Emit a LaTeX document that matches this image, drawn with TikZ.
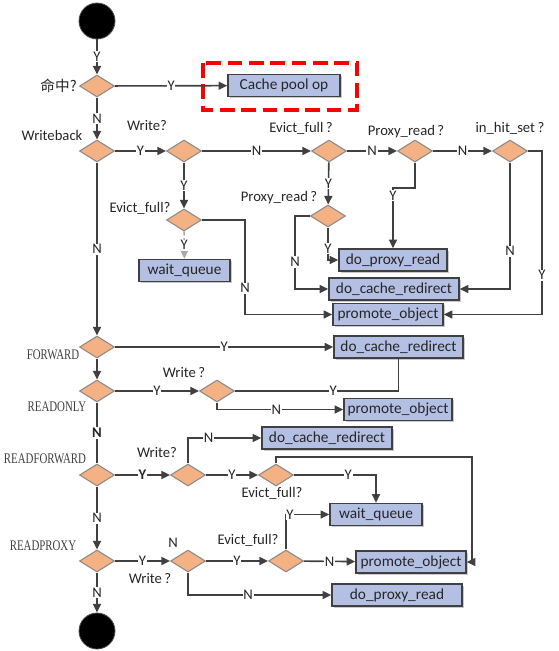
\documentclass[tikz,border=0pt]{standalone}
\usepackage{fontspec}
\setmainfont{Carlito}
\newfontfamily\cjk{Noto Sans CJK SC}
\newfontfamily\sern[FakeStretch=0.74]{Liberation Serif}
\usetikzlibrary{shapes.geometric,arrows.meta,shadows}
\definecolor{lnc}{HTML}{404040}
\definecolor{boxf}{HTML}{B4BFE4}
\definecolor{diaf}{HTML}{F4B183}
\definecolor{diad}{HTML}{8A8A8A}
\definecolor{txt}{HTML}{262626}
\tikzset{
  ln/.style={draw=lnc, line width=1.2pt},
  arr/.style={ln, -{Triangle[length=6.5pt,width=6pt]}},
  faint/.style={draw=lnc!45, densely dashed},
  lbl/.style={fill=white, inner sep=0.6pt, text=txt, font=\fontsize{11}{12}\selectfont},
  dia/.style={diamond, draw=diad, line width=0.8pt, fill=diaf, minimum width=26.25pt, minimum height=16.5pt, inner sep=0pt},
  bx/.style={rectangle, draw=lnc, line width=1.2pt, fill=boxf, text=txt, inner sep=0pt,
     minimum height=16.5pt, minimum width=#1*0.75pt, font=\fontsize{11.5}{13}\selectfont,
     drop shadow={shadow xshift=1.2pt, shadow yshift=-1.2pt, fill=black!35, opacity=0.6}},
  term/.style={circle, fill=black, draw=black!70, line width=0.6pt, minimum size=27pt, inner sep=0pt},
  captxt/.style={text=txt, inner sep=0pt, font=\fontsize{11}{12}\selectfont},
  sercap/.style={text=lnc, inner sep=0pt, font=\sern\fontsize{11}{12}\selectfont},
}
\begin{document}
\begin{tikzpicture}[x=0.75pt, y=-0.75pt]
\useasboundingbox (0,0) rectangle (558,651);
% red dashed frame
\draw[red, line width=2.3pt, dash pattern=on 11pt off 5pt] (203,63) rectangle (357,110);
% terminals
\node[term] (s) at (97,21) {};
\node[term] (e) at (97,631) {};
% diamonds
\node[dia] (d1) at (97,86) {};
\node[dia] (d2) at (97,151) {};
\node[dia] (d3) at (184,151) {};
\node[dia] (d4) at (329,151) {};
\node[dia] (d5) at (415,151) {};
\node[dia] (d6) at (510,151) {};
\node[dia] (d7) at (328,216) {};
\node[dia] (d8) at (184,220) {};
\node[dia] (d9) at (97,347) {};
\node[dia] (d10) at (97,391) {};
\node[dia] (d11) at (217,391) {};
\node[dia] (d12) at (97,475) {};
\node[dia] (d13) at (188,475) {};
\node[dia] (d14) at (276,475) {};
\node[dia] (d15) at (97,561) {};
\node[dia] (d16) at (188,561) {};
\node[dia] (d17) at (286,561) {};
% boxes
\node[bx=112] (cache) at (284,85.5) {Cache pool op};
\node[bx=108] (dpr1) at (393,260) {do\_proxy\_read};
\node[bx=130] (dcr1) at (394,289) {do\_cache\_redirect};
\node[bx=110] (po1) at (388,314.5) {promote\_object};
\node[bx=91] (wq1) at (184.5,270.5) {wait\_queue};
\node[bx=129] (dcr2) at (398.5,347) {do\_cache\_redirect};
\node[bx=108] (po2) at (398,409.5) {promote\_object};
\node[bx=130] (dcr3) at (327,438) {do\_cache\_redirect};
\node[bx=92] (wq2) at (376,514.5) {wait\_queue};
\node[bx=110] (po3) at (411,562) {promote\_object};
\node[bx=130] (dpr2) at (397,595) {do\_proxy\_read};
% captions
\node[captxt, anchor=east] (c1) at (77,86) {\cjk 命中?};
\node[captxt] (c2) at (52,135) {Writeback};
\node[captxt] (c3) at (147,126) {Write?};
\node[captxt] (c4) at (301,128) {Evict\_full\,?};
\node[captxt] (c5) at (406,132) {Proxy\_read\,?};
\node[captxt] (c6) at (510,128) {in\_hit\_set\,?};
\node[captxt] (c7) at (279,198) {Proxy\_read\,?};
\node[captxt] (c8) at (140,208) {Evict\_full?};
\node[sercap] (c9) at (53,355) {FORWARD};
\node[sercap] (c10) at (57,407) {READONLY};
\node[captxt] (c11) at (184,373) {Write\,?};
\node[sercap] (c12) at (45,459) {READFORWARD};
\node[captxt] (c13) at (157,453) {Write?};
\node[captxt] (c14) at (272,493) {Evict\_full?};
\node[sercap] (c15) at (43,546) {READPROXY};
\node[captxt] (c16) at (173,543) {N};
\node[captxt] (c17) at (150,579) {Write\,?};
\node[captxt] (c18) at (248,540) {Evict\_full?};
% connectors
\draw[arr] (s) -- node[lbl]{Y} (d1);
\draw[arr] (d1) -- node[lbl]{Y} (cache);
\draw[arr] (d1) -- node[lbl]{N} (d2);
\draw[arr] (d2) -- node[lbl]{Y} (d3);
\draw[arr] (d3) -- node[lbl]{N} (d4);
\draw[arr] (d4) -- node[lbl]{N} (d5);
\draw[arr] (d5) -- node[lbl]{N} (d6);
\draw[arr] (d6.east) -- (542,151) |- node[lbl,pos=0.38]{Y} (po1.east);
\draw[arr] (d6.south) |- node[lbl,pos=0.35]{N} (dcr1.east);
\draw[arr] (d5.south) -- (415,188) -| node[lbl,pos=0.565]{Y} (dpr1.north);
\draw[arr] (d4) -- node[lbl]{Y} (d7);
\draw[arr] (d7.south) -- node[lbl,pos=0.65]{Y} (328,260) -- (dpr1.west);
\draw[arr] (d7.west) -- (295,216) |- node[lbl,pos=0.315]{N} (dcr1.west);
\draw[arr] (d3) -- node[lbl]{Y} (d8);
\draw[arr,faint] (d8) -- node[lbl]{Y} (wq1);
\draw[arr] (d8.east) -- (245,220) |- node[lbl,pos=0.36]{N} (po1.west);
\draw[arr] (d2) -- node[lbl]{N} (d9);
\draw[arr] (d9) -- node[lbl]{Y} (dcr2);
\draw[arr] (d9) -- (d10);
\draw[arr] (d10) -- node[lbl]{Y} (d11);
\draw[ln] (d11.east) -| node[lbl,pos=0.3]{Y} (dcr2.south);
\draw[arr] (d11.south) |- node[lbl,pos=0.735]{N} (po2.west);
\draw[ln] (d10) -- node[lbl,font=\bfseries\fontsize{11}{12}\selectfont]{N} (d12);
\draw[arr] (d12) -- node[lbl,font=\bfseries\fontsize{11}{12}\selectfont]{Y} (d13);
\draw[arr] (d13.north) |- node[lbl,pos=0.64]{N} (dcr3.west);
\draw[arr] (d13) -- node[lbl]{Y} (d14);
\draw[arr] (d14.east) -| node[lbl,pos=0.33]{Y} (wq2.north);
\draw[arr] (d14.north) -- (276,457) -| (472,562) -- (po3.east);
\draw[arr] (d12) -- node[lbl]{N} (d15);
\draw[arr] (d15) -- node[lbl]{Y} (d16);
\draw[arr] (d16) -- node[lbl]{Y} (d17);
\draw[arr] (d17.north) |- node[lbl,pos=0.545]{Y} (wq2.west);
\draw[arr] (d17) -- node[lbl]{N} (po3);
\draw[arr] (d16.south) |- node[lbl,pos=0.71]{N} (dpr2.west);
\draw[arr] (d15) -- node[lbl]{N} (e);
\end{tikzpicture}
\end{document}
